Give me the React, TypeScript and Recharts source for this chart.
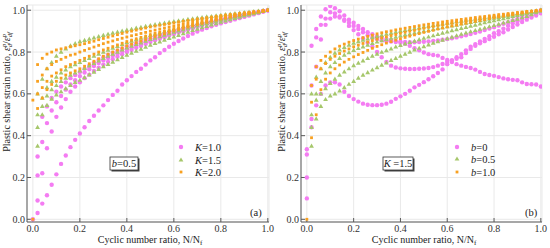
import { ScatterChart, Scatter, XAxis, YAxis, CartesianGrid } from 'recharts';

// cyclic number ratio N/Nf, shared by every curve
const NR = [
  0, 0.02, 0.04, 0.06, 0.08, 0.1, 0.12, 0.14, 0.16, 0.18, 0.2,
  0.22, 0.24, 0.26, 0.28, 0.3, 0.32, 0.34, 0.36, 0.38, 0.4,
  0.42, 0.44, 0.46, 0.48, 0.5, 0.52, 0.54, 0.56, 0.58, 0.6,
  0.62, 0.64, 0.66, 0.68, 0.7, 0.72, 0.74, 0.76, 0.78, 0.8,
  0.82, 0.84, 0.86, 0.88, 0.9, 0.92, 0.94, 0.96, 0.98, 1.0,
];
const TICKS = [0, 0.2, 0.4, 0.6, 0.8, 1.0];

// (a) b = 0.5
const aK10 = [
  [0, 0.03, 0.075, 0.115, 0.165, 0.215, 0.265, 0.305, 0.345, 0.38, 0.41, 0.44, 0.47, 0.495, 0.52, 0.545, 0.57, 0.595, 0.615, 0.645, 0.665, 0.685, 0.705, 0.72, 0.74, 0.76, 0.775, 0.795, 0.81, 0.825, 0.84, 0.853, 0.865, 0.877, 0.888, 0.898, 0.907, 0.915, 0.923, 0.93, 0.937, 0.944, 0.95, 0.956, 0.962, 0.968, 0.974, 0.98, 0.986, 0.993, 1.0],
  [null, 0.09, 0.22, 0.34, 0.42, 0.49, 0.535, 0.575, 0.61, 0.635, 0.655, 0.675, 0.692, 0.709, 0.725, 0.74, 0.753, 0.766, 0.778, 0.789, 0.8, 0.81, 0.82, 0.829, 0.839, 0.848, 0.856, 0.864, 0.871, 0.879, 0.886, 0.893, 0.9, 0.907, 0.913, 0.92, 0.926, 0.932, 0.938, 0.944, 0.95, 0.955, 0.96, 0.966, 0.971, 0.976, 0.981, 0.986, 0.99, 0.995, 1.0],
  [null, 0.21, 0.37, 0.46, 0.52, 0.56, 0.59, 0.62, 0.645, 0.665, 0.685, 0.702, 0.718, 0.733, 0.747, 0.76, 0.771, 0.782, 0.792, 0.802, 0.812, 0.821, 0.83, 0.839, 0.848, 0.856, 0.863, 0.871, 0.878, 0.885, 0.892, 0.899, 0.905, 0.912, 0.918, 0.925, 0.931, 0.937, 0.943, 0.948, 0.954, 0.959, 0.964, 0.969, 0.974, 0.978, 0.983, 0.987, 0.991, 0.996, 1.0],
  [null, 0.3, 0.49, 0.54, 0.58, 0.61, 0.635, 0.655, 0.675, 0.69, 0.705, 0.72, 0.735, 0.749, 0.762, 0.775, 0.786, 0.796, 0.806, 0.816, 0.826, 0.834, 0.842, 0.85, 0.858, 0.866, 0.873, 0.88, 0.887, 0.893, 0.9, 0.906, 0.912, 0.918, 0.924, 0.93, 0.935, 0.941, 0.946, 0.952, 0.957, 0.962, 0.966, 0.971, 0.975, 0.98, 0.984, 0.988, 0.992, 0.996, 1.0],
];
const aK15 = [
  [null, 0.6, 0.67, 0.72, 0.75, 0.78, 0.8, 0.815, 0.83, 0.84, 0.85, 0.856, 0.862, 0.868, 0.874, 0.88, 0.885, 0.89, 0.895, 0.9, 0.905, 0.909, 0.914, 0.918, 0.923, 0.927, 0.931, 0.935, 0.938, 0.942, 0.946, 0.949, 0.952, 0.956, 0.959, 0.962, 0.965, 0.968, 0.97, 0.973, 0.976, 0.979, 0.981, 0.984, 0.986, 0.989, 0.991, 0.993, 0.996, 0.998, 1.0],
  [null, 0.5, 0.58, 0.63, 0.66, 0.68, 0.7, 0.715, 0.73, 0.74, 0.75, 0.76, 0.77, 0.78, 0.79, 0.8, 0.809, 0.818, 0.827, 0.836, 0.845, 0.852, 0.859, 0.866, 0.873, 0.88, 0.886, 0.892, 0.898, 0.904, 0.91, 0.915, 0.921, 0.926, 0.932, 0.937, 0.942, 0.946, 0.951, 0.955, 0.96, 0.964, 0.968, 0.972, 0.976, 0.98, 0.984, 0.988, 0.992, 0.996, 1.0],
  [null, 0.44, 0.54, 0.59, 0.62, 0.64, 0.66, 0.675, 0.69, 0.7, 0.71, 0.722, 0.734, 0.746, 0.758, 0.77, 0.78, 0.79, 0.8, 0.81, 0.82, 0.828, 0.836, 0.844, 0.852, 0.86, 0.867, 0.874, 0.881, 0.888, 0.895, 0.901, 0.907, 0.914, 0.92, 0.926, 0.932, 0.937, 0.943, 0.948, 0.954, 0.959, 0.964, 0.968, 0.973, 0.978, 0.982, 0.987, 0.991, 0.996, 1.0],
  [null, 0.35, 0.5, 0.545, 0.575, 0.595, 0.61, 0.625, 0.64, 0.655, 0.665, 0.678, 0.691, 0.704, 0.717, 0.73, 0.741, 0.752, 0.763, 0.774, 0.785, 0.795, 0.804, 0.814, 0.823, 0.833, 0.841, 0.849, 0.857, 0.865, 0.873, 0.88, 0.888, 0.895, 0.903, 0.91, 0.917, 0.923, 0.93, 0.936, 0.943, 0.949, 0.955, 0.961, 0.967, 0.973, 0.978, 0.984, 0.989, 0.995, 1.0],
];
const aK20 = [
  [0, 0.74, 0.77, 0.79, 0.8, 0.81, 0.815, 0.82, 0.825, 0.83, 0.835, 0.84, 0.846, 0.852, 0.859, 0.865, 0.871, 0.877, 0.883, 0.889, 0.895, 0.9, 0.905, 0.91, 0.915, 0.92, 0.924, 0.928, 0.932, 0.936, 0.94, 0.944, 0.947, 0.951, 0.954, 0.958, 0.961, 0.964, 0.967, 0.971, 0.974, 0.977, 0.98, 0.982, 0.985, 0.988, 0.99, 0.993, 0.995, 0.998, 1.0],
  [null, 0.66, 0.69, 0.72, 0.74, 0.755, 0.765, 0.775, 0.785, 0.79, 0.8, 0.808, 0.816, 0.824, 0.832, 0.84, 0.847, 0.853, 0.86, 0.866, 0.872, 0.878, 0.883, 0.889, 0.894, 0.9, 0.905, 0.91, 0.915, 0.92, 0.925, 0.93, 0.934, 0.939, 0.943, 0.948, 0.952, 0.956, 0.96, 0.964, 0.968, 0.971, 0.975, 0.978, 0.982, 0.985, 0.988, 0.991, 0.994, 0.997, 1.0],
  [null, 0.6, 0.63, 0.66, 0.685, 0.7, 0.715, 0.73, 0.74, 0.75, 0.76, 0.77, 0.78, 0.79, 0.8, 0.81, 0.818, 0.826, 0.834, 0.842, 0.85, 0.857, 0.863, 0.87, 0.876, 0.883, 0.889, 0.895, 0.9, 0.906, 0.912, 0.917, 0.922, 0.928, 0.933, 0.938, 0.943, 0.948, 0.952, 0.957, 0.962, 0.966, 0.97, 0.974, 0.978, 0.982, 0.986, 0.989, 0.993, 0.996, 1.0],
  [0.57, 0.53, 0.58, 0.62, 0.645, 0.66, 0.675, 0.69, 0.7, 0.71, 0.72, 0.732, 0.744, 0.756, 0.768, 0.78, 0.79, 0.8, 0.81, 0.82, 0.83, 0.838, 0.845, 0.853, 0.86, 0.868, 0.875, 0.882, 0.888, 0.895, 0.902, 0.908, 0.914, 0.92, 0.926, 0.932, 0.937, 0.942, 0.948, 0.953, 0.958, 0.962, 0.967, 0.971, 0.976, 0.98, 0.984, 0.988, 0.992, 0.996, 1.0],
];

// (b) K = 1.5
const bB00 = [
  [0.1, 0.83, 0.91, 0.97, 1.005, 1.02, 1.01, 0.995, 0.975, 0.955, 0.94, 0.925, 0.91, 0.895, 0.885, 0.875, 0.868, 0.862, 0.857, 0.853, 0.85, 0.848, 0.847, 0.847, 0.848, 0.849, 0.851, 0.853, 0.856, 0.859, 0.862, 0.866, 0.87, 0.875, 0.88, 0.886, 0.892, 0.898, 0.905, 0.912, 0.919, 0.927, 0.935, 0.943, 0.951, 0.959, 0.967, 0.975, 0.983, 0.991, 1.0],
  [0.2, 0.64, 0.87, 0.93, 0.96, 0.99, 0.985, 0.97, 0.95, 0.925, 0.905, 0.885, 0.865, 0.845, 0.825, 0.8, 0.775, 0.752, 0.735, 0.726, 0.722, 0.72, 0.719, 0.719, 0.72, 0.721, 0.724, 0.728, 0.735, 0.743, 0.752, 0.76, 0.768, 0.775, 0.795, 0.815, 0.83, 0.842, 0.852, 0.862, 0.873, 0.885, 0.895, 0.908, 0.92, 0.932, 0.944, 0.955, 0.965, 0.975, 0.985],
  [0.31, 0.48, 0.73, 0.86, 0.93, 0.96, 0.97, 0.965, 0.955, 0.94, 0.925, 0.91, 0.895, 0.88, 0.87, 0.862, 0.856, 0.852, 0.85, 0.848, 0.845, 0.84, 0.83, 0.818, 0.808, 0.798, 0.79, 0.786, 0.783, 0.772, 0.762, 0.752, 0.742, 0.735, 0.729, 0.724, 0.716, 0.705, 0.695, 0.69, 0.686, 0.68, 0.674, 0.67, 0.667, 0.665, 0.655, 0.647, 0.646, 0.645, 0.635],
  [0.335, 0.44, 0.545, 0.6, 0.64, 0.655, 0.655, 0.645, 0.61, 0.59, 0.575, 0.563, 0.553, 0.548, 0.546, 0.546, 0.548, 0.553, 0.562, 0.576, 0.588, 0.6, 0.615, 0.631, 0.643, 0.656, 0.67, 0.684, 0.7, 0.717, 0.742, 0.76, 0.775, 0.79, 0.808, 0.825, 0.838, 0.851, 0.863, 0.876, 0.89, 0.9, 0.912, 0.926, 0.938, 0.947, 0.958, 0.966, 0.974, 0.982, 0.99],
];
const bB05 = [
  [null, 0.35, 0.48, 0.54, 0.573, 0.59, 0.6, 0.614, 0.63, 0.646, 0.66, 0.675, 0.69, 0.702, 0.714, 0.725, 0.737, 0.748, 0.76, 0.77, 0.78, 0.79, 0.8, 0.81, 0.818, 0.826, 0.834, 0.842, 0.85, 0.857, 0.864, 0.871, 0.878, 0.885, 0.891, 0.897, 0.903, 0.909, 0.915, 0.921, 0.927, 0.933, 0.939, 0.945, 0.951, 0.957, 0.964, 0.971, 0.979, 0.988, 0.995],
  [null, 0.44, 0.57, 0.6, 0.625, 0.65, 0.67, 0.69, 0.705, 0.72, 0.735, 0.747, 0.758, 0.769, 0.78, 0.79, 0.799, 0.807, 0.815, 0.824, 0.832, 0.839, 0.846, 0.852, 0.859, 0.866, 0.872, 0.878, 0.884, 0.89, 0.896, 0.902, 0.907, 0.913, 0.918, 0.924, 0.929, 0.934, 0.94, 0.945, 0.95, 0.955, 0.96, 0.965, 0.97, 0.975, 0.98, 0.985, 0.99, 0.995, 1.0],
  [null, 0.5, 0.6, 0.66, 0.7, 0.73, 0.75, 0.77, 0.785, 0.797, 0.808, 0.817, 0.825, 0.833, 0.841, 0.848, 0.854, 0.86, 0.866, 0.871, 0.877, 0.882, 0.886, 0.891, 0.895, 0.9, 0.904, 0.908, 0.913, 0.917, 0.921, 0.925, 0.929, 0.934, 0.938, 0.942, 0.946, 0.95, 0.954, 0.958, 0.962, 0.966, 0.97, 0.973, 0.977, 0.981, 0.985, 0.989, 0.992, 0.996, 1.0],
  [null, 0.6, 0.68, 0.72, 0.75, 0.775, 0.795, 0.81, 0.822, 0.833, 0.843, 0.85, 0.857, 0.863, 0.869, 0.875, 0.88, 0.885, 0.89, 0.895, 0.9, 0.904, 0.908, 0.912, 0.916, 0.92, 0.924, 0.927, 0.931, 0.934, 0.938, 0.941, 0.945, 0.948, 0.952, 0.955, 0.958, 0.961, 0.964, 0.967, 0.97, 0.973, 0.976, 0.979, 0.982, 0.985, 0.988, 0.991, 0.994, 0.997, 1.0],
];
const bB10 = [
  [0, 0.64, 0.73, 0.76, 0.78, 0.8, 0.815, 0.828, 0.838, 0.847, 0.855, 0.862, 0.869, 0.875, 0.881, 0.887, 0.892, 0.897, 0.901, 0.906, 0.91, 0.914, 0.918, 0.922, 0.926, 0.93, 0.933, 0.937, 0.94, 0.944, 0.947, 0.95, 0.953, 0.956, 0.959, 0.962, 0.965, 0.968, 0.97, 0.973, 0.976, 0.979, 0.981, 0.984, 0.986, 0.989, 0.991, 0.994, 0.996, 0.998, 1.0],
  [null, 0.56, 0.67, 0.72, 0.745, 0.765, 0.78, 0.793, 0.805, 0.815, 0.825, 0.833, 0.841, 0.848, 0.855, 0.862, 0.868, 0.873, 0.879, 0.884, 0.89, 0.895, 0.9, 0.904, 0.909, 0.914, 0.918, 0.922, 0.927, 0.931, 0.935, 0.939, 0.943, 0.946, 0.95, 0.954, 0.957, 0.96, 0.964, 0.967, 0.97, 0.973, 0.976, 0.98, 0.983, 0.986, 0.989, 0.992, 0.994, 0.997, 1.0],
  [null, 0.39, 0.5, 0.62, 0.67, 0.7, 0.72, 0.738, 0.752, 0.765, 0.777, 0.788, 0.798, 0.808, 0.818, 0.827, 0.835, 0.843, 0.85, 0.857, 0.864, 0.87, 0.876, 0.882, 0.888, 0.894, 0.899, 0.904, 0.91, 0.915, 0.92, 0.925, 0.929, 0.934, 0.938, 0.943, 0.947, 0.951, 0.955, 0.96, 0.964, 0.968, 0.972, 0.976, 0.979, 0.983, 0.987, 0.99, 0.994, 0.997, 1.0],
];

const PINK = '#f47cf2';
const GREEN = '#a6c76b';
const ORANGE = '#f8a020';
const FRAME = '#5a5a5a';
const SERIF = 'Liberation Serif, Times New Roman, serif';

const toPoints = (ys: (number | null)[]) =>
  ys.flatMap((y, i) => (y == null ? [] : [{ x: NR[i], y }]));

const PinkDot = ({ cx, cy }: any) => <circle cx={cx} cy={cy} r={2.2} fill={PINK} />;
const GreenTri = ({ cx, cy }: any) => (
  <polygon
    points={`${cx},${cy - 2.6} ${cx + 2.4},${cy + 1.6} ${cx - 2.4},${cy + 1.6}`}
    fill={GREEN}
  />
);
const OrangeSq = ({ cx, cy }: any) => (
  <rect x={cx - 1.4} y={cy - 1.4} width={2.8} height={2.8} fill={ORANGE} />
);

const X_DOMAIN = [-0.025, 1.005];
const Y_DOMAIN = [-0.013, 1.025];
const tickStyle = { fill: '#333', fontSize: 10, fontFamily: SERIF, style: { fontFamily: SERIF } };
const noTick = () => <g />;

const Panel = ({ groups, yWidth, right }: any) => (
  <ScatterChart width={275} height={248} margin={{ top: 5, right, bottom: 0, left: 0 }}>
    <CartesianGrid xAxisId="b" yAxisId="l" stroke="#e9e9e9" />
    <XAxis
      xAxisId="b"
      type="number"
      dataKey="x"
      domain={X_DOMAIN}
      ticks={TICKS}
      allowDataOverflow
      height={26}
      tickSize={-4}
      tickMargin={7}
      tickFormatter={(v: number) => v.toFixed(1)}
      stroke={FRAME}
      tick={tickStyle}
    />
    <XAxis
      xAxisId="t"
      orientation="top"
      type="number"
      domain={X_DOMAIN}
      ticks={TICKS}
      allowDataOverflow
      height={0}
      tickSize={-4}
      stroke={FRAME}
      tick={noTick}
    />
    <YAxis
      yAxisId="l"
      type="number"
      dataKey="y"
      domain={Y_DOMAIN}
      ticks={TICKS}
      allowDataOverflow
      width={yWidth}
      tickSize={-4}
      tickMargin={6}
      tickFormatter={(v: number) => v.toFixed(1)}
      stroke={FRAME}
      tick={tickStyle}
    />
    <YAxis
      yAxisId="r"
      orientation="right"
      type="number"
      domain={Y_DOMAIN}
      ticks={TICKS}
      allowDataOverflow
      width={0}
      tickSize={-4}
      stroke={FRAME}
      tick={noTick}
    />
    {groups.map((g: any, gi: number) =>
      g.curves.map((c: (number | null)[], ci: number) => (
        <Scatter
          key={`${gi}-${ci}`}
          xAxisId="b"
          yAxisId="l"
          data={toPoints(c)}
          shape={g.shape}
          isAnimationActive={false}
        />
      ))
    )}
  </ScatterChart>
);

const YLabel = ({ x }: { x: number }) => (
  <text
    transform={`translate(${x},92) rotate(-90)`}
    textAnchor="middle"
    fontSize={10}
    fill="#222"
  >
    <tspan>Plastic shear strain ratio, </tspan>
    <tspan fontStyle="italic">ε</tspan>
    <tspan fontSize={6.5} fontStyle="italic" dy={-4}>p</tspan>
    <tspan fontSize={6.5} fontStyle="italic" dx={-3.3} dy={6}>d</tspan>
    <tspan dy={-2}>/</tspan>
    <tspan fontStyle="italic">ε</tspan>
    <tspan fontSize={6.5} fontStyle="italic" dy={-4}>p</tspan>
    <tspan fontSize={6.5} fontStyle="italic" dx={-3.3} dy={6}>df</tspan>
  </text>
);

const XLabel = ({ cx }: { cx: number }) => (
  <text x={cx} y={243} textAnchor="middle" fontSize={10} fill="#222">
    <tspan>Cyclic number ratio, N/N</tspan>
    <tspan fontSize={7} dy={2}>f</tspan>
  </text>
);

const LegendRow = ({ x, y, mark, sym, val }: any) => (
  <g fontSize={10.5} fill="#222">
    {mark === 'dot' && <PinkDot cx={x} cy={y} />}
    {mark === 'tri' && <GreenTri cx={x} cy={y} />}
    {mark === 'sq' && <OrangeSq cx={x} cy={y} />}
    <text x={x + 14} y={y + 3.5}>
      <tspan fontStyle="italic">{sym}</tspan>
      <tspan>{val}</tspan>
    </text>
  </g>
);

const Boxed = ({ x, y, w, sym, val }: any) => (
  <g fontSize={10.5}>
    <rect x={x + 1.5} y={y + 1.5} width={w} height={13} fill="#444" />
    <rect x={x} y={y} width={w} height={13} fill="#fff" stroke="#333" strokeWidth={0.8} />
    <text x={x + w / 2} y={y + 10} textAnchor="middle" fill="#222">
      <tspan fontStyle="italic">{sym}</tspan>
      <tspan>{val}</tspan>
    </text>
  </g>
);

export default function App() {
  const groupsA = [
    { curves: aK10, shape: PinkDot },
    { curves: aK15, shape: GreenTri },
    { curves: aK20, shape: OrangeSq },
  ];
  const groupsB = [
    { curves: bB00, shape: PinkDot },
    { curves: bB05, shape: GreenTri },
    { curves: bB10, shape: OrangeSq },
  ];
  return (
    <div
      style={{
        position: 'absolute',
        left: 0,
        top: 0,
        width: 550,
        height: 248,
        background: '#fff',
        fontFamily: SERIF,
      }}
    >
      <div style={{ position: 'absolute', left: 0, top: 0 }}>
        <Panel groups={groupsA} yWidth={27} right={6} />
      </div>
      <div style={{ position: 'absolute', left: 275, top: 0 }}>
        <Panel groups={groupsB} yWidth={26} right={8} />
      </div>
      <svg
        width={550}
        height={248}
        fontFamily={SERIF}
        style={{ position: 'absolute', left: 0, top: 0, pointerEvents: 'none' }}
      >
        <YLabel x={10} />
        <YLabel x={285} />
        <XLabel cx={150} />
        <XLabel cx={424} />

        <LegendRow x={181} y={147} mark="dot" sym="K" val="=1.0" />
        <LegendRow x={181} y={160} mark="tri" sym="K" val="=1.5" />
        <LegendRow x={181} y={172} mark="sq" sym="K" val="=2.0" />
        <LegendRow x={457} y={147} mark="dot" sym="b" val="=0" />
        <LegendRow x={457} y={159} mark="tri" sym="b" val="=0.5" />
        <LegendRow x={457} y={172} mark="sq" sym="b" val="=1.0" />

        <Boxed x={110} y={157} w={28} sym="b" val="=0.5" />
        <Boxed x={383} y={157} w={30} sym="K" val=" =1.5" />

        <text x={250} y={216} fontSize={10.5} fill="#222">(a)</text>
        <text x={525} y={216} fontSize={10.5} fill="#222">(b)</text>
      </svg>
    </div>
  );
}
